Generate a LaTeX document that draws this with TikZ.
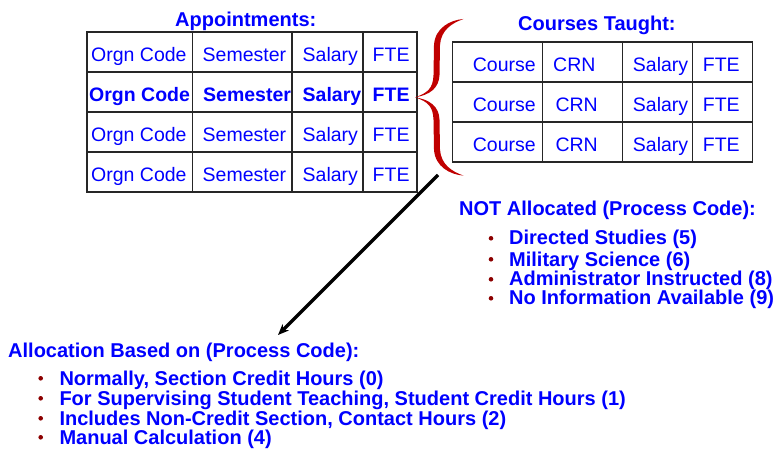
\documentclass[tikz,border=0pt]{standalone}
\usepackage{fontspec}
\setmainfont{Liberation Sans}
\usetikzlibrary{arrows.meta}
\definecolor{txtblue}{RGB}{0,0,255}
\definecolor{bracered}{RGB}{192,0,0}
\definecolor{bulletred}{RGB}{140,0,0}
\begin{document}
\begin{tikzpicture}[x=1pt,y=-1pt,
  cell/.style={anchor=base west,inner sep=0pt,text=txtblue,font=\fontsize{19.5}{22}\selectfont},
  bcell/.style={anchor=base west,inner sep=0pt,text=txtblue,font=\fontsize{19.5}{22}\selectfont\bfseries},
  head/.style={anchor=base west,inner sep=0pt,text=txtblue,font=\fontsize{20}{22}\selectfont\bfseries},
  gridline/.style={line width=1.4pt,draw=black!85},
  bul/.style={fill=bulletred},
  arrowline/.style={line width=3.5pt,-{Stealth[length=11pt,width=9pt]}}]
\useasboundingbox (0,0) rectangle (774,449);

% ---------- Appointments table ----------
\node[head] (apptitle) at (175,27) {Appointments:};
\draw[gridline] (87,32) rectangle (417,192);
\foreach \y in {72,112,152} \draw[gridline] (87,\y) -- (417,\y);
\foreach \x in {192.5,292,363} \draw[gridline] (\x,32) -- (\x,192);

\foreach \r/\b in {1/62,3/142,4/182}{
  \node[cell] (a\r c1) at (91,\b) {Orgn Code};
  \node[cell] (a\r c2) at (202.5,\b) {Semester};
  \node[cell] (a\r c3) at (302.5,\b) {Salary};
  \node[cell] (a\r c4) at (372.5,\b) {FTE};
}
\node[bcell] (a2c1) at (89,102) {Orgn Code};
\node[bcell] (a2c2) at (203,102) {Semester};
\node[bcell] (a2c3) at (302.5,102) {Salary};
\node[bcell] (a2c4) at (372.5,102) {FTE};

% ---------- Courses table ----------
\node[head] (crstitle) at (518,30.5) {Courses Taught:};
\draw[gridline] (452.7,42) rectangle (752.7,162);
\foreach \y in {82,122} \draw[gridline] (452.7,\y) -- (752.7,\y);
\foreach \x in {542.7,622.7,692.7} \draw[gridline] (\x,42) -- (\x,162);

\foreach \r/\b/\cx in {1/72/553,2/112/555.3,3/152/555.3}{
  \node[cell] (c\r c1) at (472.7,\b) {Course};
  \node[cell] (c\r c2) at (\cx,\b) {CRN};
  \node[cell] (c\r c3) at (632.7,\b) {Salary};
  \node[cell] (c\r c4) at (702.7,\b) {FTE};
}

% ---------- Brace ----------
\fill[bracered] (415,97.3) .. controls (428,93) and (433,88) .. (433.5,75) -- (434,45)
  .. controls (435,28) and (450,20) .. (463.5,19)
  .. controls (452,23) and (441,30) .. (440,45) -- (439.5,75)
  .. controls (439,88) and (430,95) .. (415,97.3) -- cycle;
\fill[bracered] (415,97.3) .. controls (428,101.6) and (433,106.6) .. (433.5,119.6) -- (434,149.6)
  .. controls (435,166.6) and (450,174.6) .. (463.5,175.6)
  .. controls (452,171.6) and (441,164.6) .. (440,149.6) -- (439.5,119.6)
  .. controls (439,106.6) and (430,99.6) .. (415,97.3) -- cycle;

% ---------- Arrow ----------
\coordinate (arrS) at (438,175);
\coordinate (arrE) at (278,335);
\draw[arrowline] (arrS) -- (arrE);

% ---------- NOT Allocated ----------
\node[head] (nothead) at (459,216) {NOT Allocated (Process Code):};
\foreach \i/\b/\t in {1/245/{Directed Studies (5)},2/266/{Military Science (6)},3/286/{Administrator Instructed (8)},4/305/{No Information Available (9)}}{
  \fill[bul] (491,\b-6.7) circle (2.3pt);
  \node[head] (not\i) at (509,\b) {\t};
}

% ---------- Allocation Based on ----------
\node[head] (allochead) at (8,357) {Allocation Based on (Process Code):};
\foreach \i/\b/\t in {1/385/{Normally, Section Credit Hours (0)},2/405/{For Supervising Student Teaching, Student Credit Hours (1)},3/425/{Includes Non-Credit Section, Contact Hours (2)},4/444/{Manual Calculation (4)}}{
  \fill[bul] (40.7,\b-6.7) circle (2.3pt);
  \node[head] (alloc\i) at (59.3,\b) {\t};
}
\end{tikzpicture}
\end{document}
